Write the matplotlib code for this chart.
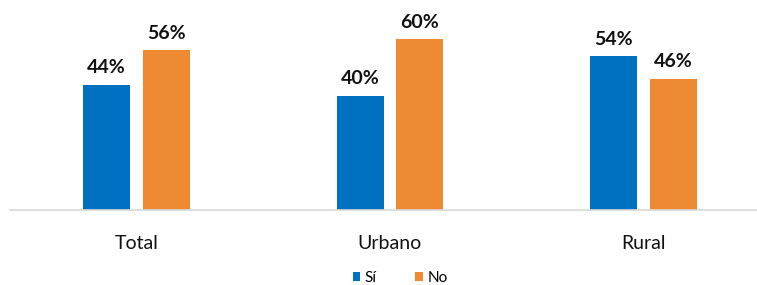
import matplotlib.pyplot as plt
import numpy as np

categories = ["Total", "Urbano", "Rural"]
si_values = [44, 40, 54]
no_values = [56, 60, 46]
series_names = ["Sí", "No"]

plt.rcParams['font.family'] = ['Lato', 'DejaVu Sans']

fig = plt.figure(figsize=(7.57, 2.85), dpi=100)
ax = fig.add_axes([10 / 757, 1 - 210 / 285, 747 / 757, 200 / 285])

x = np.arange(len(categories))
w = 0.185
off = 0.118
b1 = ax.bar(x - off, si_values, w, color="#0070C0", label=series_names[0])
b2 = ax.bar(x + off, no_values, w, color="#EE8A32", label=series_names[1])

for bars, vals in ((b1, si_values), (b2, no_values)):
    for r, v in zip(bars, vals):
        ax.text(r.get_x() + r.get_width() / 2, v + 3, f"{v}%",
                ha="center", va="bottom", fontsize=14, fontweight="bold",
                color="#111111")

ax.set_xlim(-0.499, 2.448)
ax.set_ylim(0, 70.2)
ax.set_xticks(x)
ax.set_xticklabels(categories, fontsize=14, color="#111111")
ax.tick_params(axis="x", length=0, pad=18)
ax.set_yticks([])
for s in ["top", "right", "left"]:
    ax.spines[s].set_visible(False)
ax.spines["bottom"].set_color("#d9d9d9")
ax.spines["bottom"].set_linewidth(1.2)

fig.legend(loc="center", bbox_to_anchor=(400 / 757, 1 - 278 / 285), ncol=2,
           frameon=False, fontsize=11, handlelength=0.5, handleheight=0.55,
           handletextpad=0.3, columnspacing=2.5)

fig.savefig("out.png", dpi=100)
